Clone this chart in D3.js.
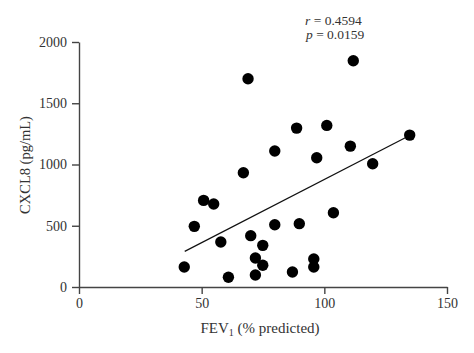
<!DOCTYPE html>
<html><head><meta charset="utf-8">
<script src="https://cdn.jsdelivr.net/npm/d3@7"></script>
<style>body{margin:0;background:#fff}text{font-family:"Liberation Serif","DejaVu Serif",serif;fill:#333}</style>
</head><body><svg id="c" width="474" height="353"></svg>
<script>
const fev = [42.9,47.0,50.8,54.9,57.8,60.9,67.0,68.9,70.0,71.9,71.9,74.9,74.9,79.8,79.8,87.0,88.7,89.8,95.7,95.7,96.9,101.0,103.7,110.6,111.8,119.7,134.8];
const cxcl8 = [163,495,707,677,367,79,933,1700,419,237,98,340,177,1110,508,122,1297,517,229,163,1055,1319,606,1150,1847,1006,1240];
const trendX = [43.1,133];
const trendY = [291,1218];
const xTicks = [0,50,100,150];
const yTicks = [0,500,1000,1500,2000];

const svg = d3.select("#c");
const x = d3.scaleLinear().domain([0,150]).range([79,447]);
const y = d3.scaleLinear().domain([0,2000]).range([287,42]);

const gx = svg.append("g").attr("transform","translate(0,287)")
  .call(d3.axisBottom(x).tickValues(xTicks).tickFormat(d3.format("d")).tickSize(7).tickSizeOuter(0).tickPadding(4));
const gy = svg.append("g").attr("transform","translate(79,0)")
  .call(d3.axisLeft(y).tickValues(yTicks).tickFormat(d3.format("d")).tickSize(7).tickSizeOuter(0).tickPadding(5));
[gx,gy].forEach(g=>{
  g.selectAll("path,line").attr("stroke","#444").attr("stroke-width",1.4);
  g.selectAll("text").attr("font-size",14).attr("font-family","Liberation Serif, serif").attr("fill","#333");
});

svg.append("line")
  .attr("x1",x(trendX[0])).attr("y1",y(trendY[0]))
  .attr("x2",x(trendX[1])).attr("y2",y(trendY[1]))
  .attr("stroke","#111").attr("stroke-width",1.2);

svg.append("g").selectAll("circle").data(fev.map((f,i)=>[f,cxcl8[i]])).join("circle")
  .attr("cx",d=>x(d[0])).attr("cy",d=>y(d[1])).attr("r",5.7).attr("fill","#000");

const xl = svg.append("text").attr("x",260).attr("y",333).attr("text-anchor","middle").attr("font-size",15);
xl.append("tspan").text("FEV");
xl.append("tspan").text("1").attr("font-size",10).attr("dy",3);
xl.append("tspan").text(" (% predicted)").attr("dy",-3);

svg.append("text").attr("transform","translate(30,165) rotate(-90)").attr("text-anchor","middle")
  .attr("font-size",14.5).text("CXCL8 (pg/mL)");

const a1 = svg.append("text").attr("x",305).attr("y",24.5).attr("font-size",13.5);
a1.append("tspan").text("r").attr("font-style","italic");
a1.append("tspan").text(" = 0.4594");
const a2 = svg.append("text").attr("x",306).attr("y",38.5).attr("font-size",13.5);
a2.append("tspan").text("p").attr("font-style","italic");
a2.append("tspan").text(" = 0.0159");
</script></body></html>
